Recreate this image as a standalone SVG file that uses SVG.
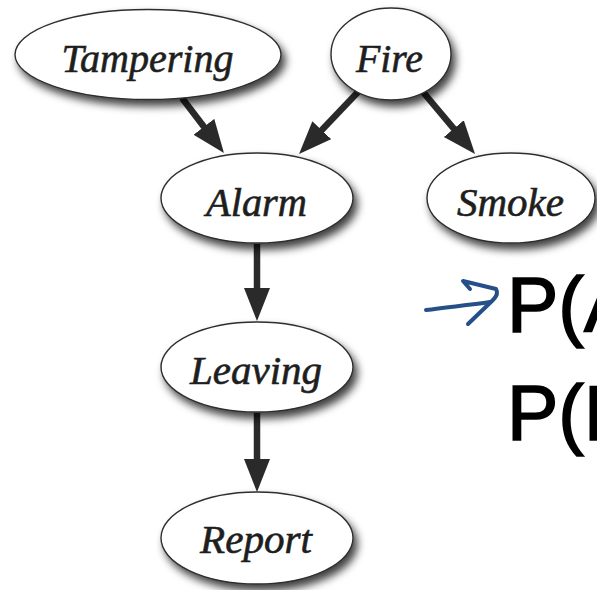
<svg xmlns="http://www.w3.org/2000/svg" width="597" height="590" viewBox="0 0 597 590">
  <style>
    .node ellipse { fill: #ffffff; stroke: #2e2e2e; stroke-width: 1.4; filter: url(#shadow); }
    .node text { font-family: "Liberation Serif", "Times New Roman", serif; font-style: italic; font-size: 40px; fill: #1e1e1e; stroke: #1e1e1e; stroke-width: 0.6; text-anchor: middle; }
    .edge { stroke: #2a2a2a; stroke-width: 6.5; fill: none; marker-end: url(#head); }
    .note { font-family: "Liberation Sans", Arial, sans-serif; font-size: 77px; fill: #000000; stroke: #000000; stroke-width: 1.6; }
    .pen { stroke: #244f88; stroke-width: 4; fill: none; stroke-linecap: round; stroke-linejoin: round; }
  </style>
  <defs>
    <filter id="shadow" x="-20%" y="-20%" width="150%" height="160%">
      <feDropShadow dx="4" dy="6" stdDeviation="4" flood-color="#000000" flood-opacity="0.75"/>
    </filter>
    <marker id="head" markerUnits="userSpaceOnUse" markerWidth="34" markerHeight="28" viewBox="0 0 34 28" refX="11" refY="13" orient="auto">
      <path d="M0,0 L33,13 L0,26 Z" fill="#2a2a2a"/>
    </marker>
  </defs>

  <rect width="597" height="590" fill="#ffffff"/>

  <!-- connectors -->
  <g id="edges">
    <line class="edge" x1="182" y1="98" x2="210.6" y2="135.5"/>
    <line class="edge" x1="358" y1="92" x2="314.2" y2="138.1"/>
    <line class="edge" x1="423" y1="92" x2="460.9" y2="137.1"/>
    <line class="edge" x1="257" y1="244" x2="257" y2="299"/>
    <line class="edge" x1="257" y1="413" x2="257" y2="470"/>
  </g>

  <!-- nodes -->
  <g id="tampering" class="node">
    <ellipse cx="148" cy="54.5" rx="133" ry="45"/>
    <text x="147.5" y="72" textLength="172" lengthAdjust="spacingAndGlyphs">Tampering</text>
  </g>
  <g id="fire" class="node">
    <ellipse cx="391" cy="54" rx="60" ry="46"/>
    <text x="389.5" y="72" textLength="67" lengthAdjust="spacingAndGlyphs">Fire</text>
  </g>
  <g id="alarm" class="node">
    <ellipse cx="257" cy="198" rx="96" ry="45"/>
    <text x="256.5" y="216" textLength="101" lengthAdjust="spacingAndGlyphs">Alarm</text>
  </g>
  <g id="smoke" class="node">
    <ellipse cx="511" cy="198" rx="84" ry="45"/>
    <text x="510.5" y="216" textLength="107" lengthAdjust="spacingAndGlyphs">Smoke</text>
  </g>
  <g id="leaving" class="node">
    <ellipse cx="257" cy="367" rx="96" ry="45"/>
    <text x="256" y="384" textLength="132" lengthAdjust="spacingAndGlyphs">Leaving</text>
  </g>
  <g id="report" class="node">
    <ellipse cx="257" cy="538" rx="96" ry="46"/>
    <text x="256" y="553" textLength="112" lengthAdjust="spacingAndGlyphs">Report</text>
  </g>

  <!-- handwritten pointer -->
  <g id="pointer">
    <path class="pen" d="M426,310 C448,307 470,305 490,302"/>
    <path class="pen" d="M470,289 L463,281 L496,289 Q499,294 493,300 L468,324"/>
  </g>

  <!-- formula lines, running past the right edge -->
  <g id="formulas">
    <text class="note" x="507" y="332">P(A</text>
    <text class="note" x="507" y="440">P(L</text>
  </g>
</svg>
